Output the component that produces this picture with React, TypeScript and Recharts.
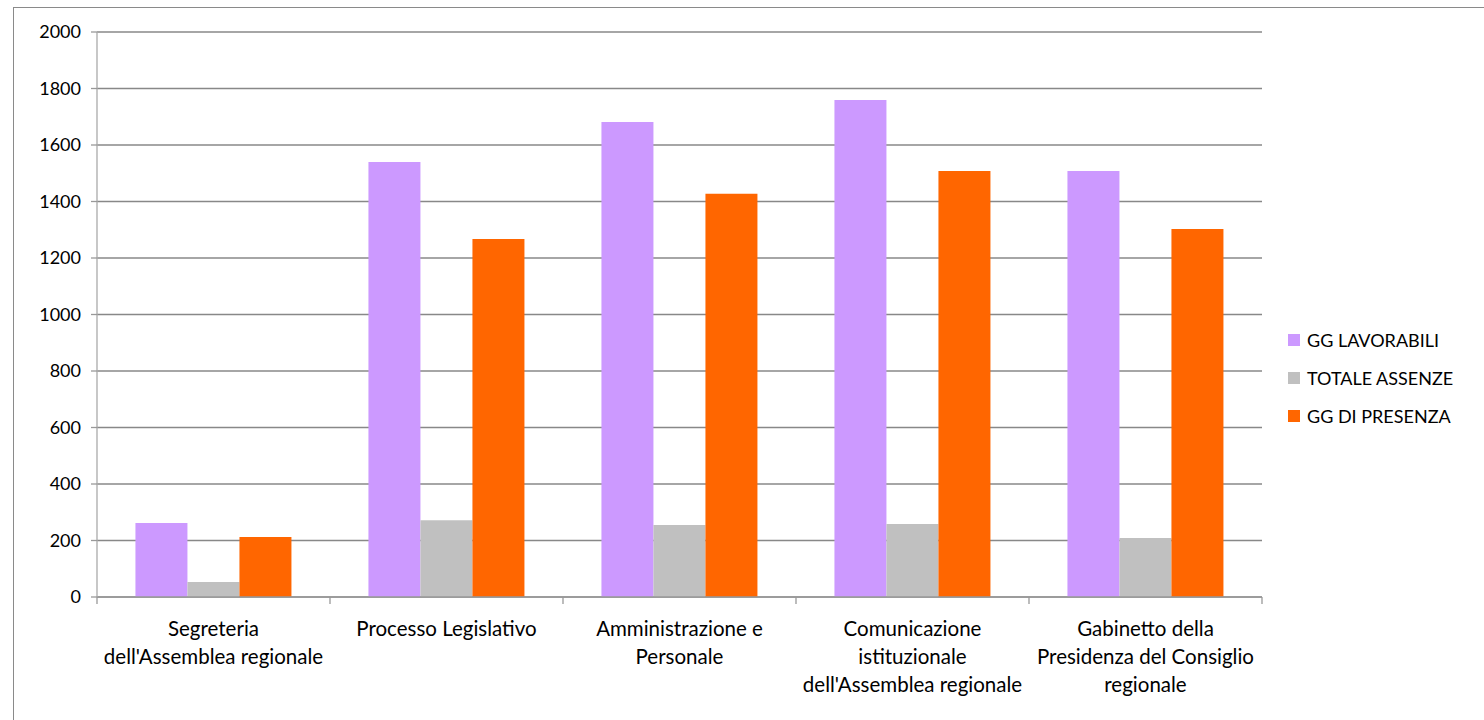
import React from 'react';
import { BarChart, Bar, XAxis, YAxis, CartesianGrid, Legend } from 'recharts';

const categories = [
  'Segreteria\ndell\'Assemblea regionale',
  'Processo Legislativo',
  'Amministrazione e\nPersonale',
  'Comunicazione\nistituzionale\ndell\'Assemblea regionale',
  'Gabinetto della\nPresidenza del Consiglio\nregionale',
];
const ggLavorabili = [262, 1540, 1681, 1759, 1508];
const totaleAssenze = [53, 272, 255, 258, 209];
const ggPresenza = [212, 1267, 1427, 1508, 1303];
const yTicks = [0, 200, 400, 600, 800, 1000, 1200, 1400, 1600, 1800, 2000];

const series = [
  { key: 'lav', name: 'GG LAVORABILI', color: '#CC99FF', values: ggLavorabili },
  { key: 'ass', name: 'TOTALE ASSENZE', color: '#C0C0C0', values: totaleAssenze },
  { key: 'pre', name: 'GG DI PRESENZA', color: '#FF6600', values: ggPresenza },
];

const data = categories.map((c, i) => {
  const row: any = { cat: c };
  series.forEach((s) => (row[s.key] = s.values[i]));
  return row;
});

const FONT = 'Lato, "Open Sans", sans-serif';
const AXIS_GRAY = '#999999';

const CatTick = (props: any) => {
  const { x, y, payload, index, visibleTicksCount } = props;
  const lines = String(payload.value).split('\n');
  const half = payload && payload.offset ? payload.offset : 116.5;
  const isLast = index === (visibleTicksCount ?? categories.length) - 1;
  return (
    <g>
      <line x1={x - half} x2={x - half} y1={y} y2={y + 7} stroke={AXIS_GRAY} strokeWidth={1.3} />
      {isLast && <line x1={x + half} x2={x + half} y1={y} y2={y + 7} stroke={AXIS_GRAY} strokeWidth={1.3} />}
      <text x={x} y={y + 39} textAnchor="middle" fontFamily={FONT} fontSize={20.5} fill="#000">
        {lines.map((l, i) => (
          <tspan key={i} x={x} dy={i === 0 ? 0 : 28}>
            {l}
          </tspan>
        ))}
      </text>
    </g>
  );
};

const LegendContent = () => (
  <div style={{ fontFamily: FONT, fontSize: 18, color: '#000' }}>
    {series.map((s) => (
      <div key={s.key} style={{ display: 'flex', alignItems: 'center', height: 38 }}>
        <span style={{ display: 'inline-block', width: 12, height: 12, background: s.color, marginRight: 7 }} />
        <span>{s.name}</span>
      </div>
    ))}
  </div>
);

export default function App() {
  return (
    <div style={{ position: 'fixed', left: 0, top: 0, width: 1484, height: 720, background: '#fff', overflow: 'hidden' }}>
      <div
        style={{
          position: 'absolute',
          left: 13,
          top: 7,
          width: 1600,
          height: 900,
          border: '1px solid #8a8a8a',
        }}
      />
      <div style={{ position: 'absolute', left: 0, top: 0 }}>
        <BarChart
          width={1484}
          height={720}
          data={data}
          margin={{ top: 32, right: 222, bottom: 0, left: 0 }}
          barCategoryGap="16.5%"
          barGap={0}
        >
          <CartesianGrid vertical={false} stroke="#888888" strokeWidth={1.3} />
          <XAxis
            dataKey="cat"
            height={123}
            tickLine={false}
            tickSize={0}
            tickMargin={0}
            axisLine={{ stroke: AXIS_GRAY, strokeWidth: 1.3 }}
            tick={<CatTick />}
            interval={0}
          />
          <YAxis
            width={97}
            domain={[0, 2000]}
            ticks={yTicks}
            interval={0}
            tickSize={6}
            tickMargin={10}
            tickLine={{ stroke: AXIS_GRAY, strokeWidth: 1.3 }}
            axisLine={{ stroke: '#aaaaaa', strokeWidth: 1.3 }}
            tick={{ fontFamily: FONT, fontSize: 18, fill: '#000' }}
          />
          <Legend
            layout="vertical"
            align="center"
            verticalAlign="middle"
            content={<LegendContent />}
            wrapperStyle={{ left: 1288, top: 321, width: 190 }}
          />
          {series.map((s) => (
            <Bar key={s.key} dataKey={s.key} name={s.name} fill={s.color} isAnimationActive={false} />
          ))}
        </BarChart>
      </div>
    </div>
  );
}
